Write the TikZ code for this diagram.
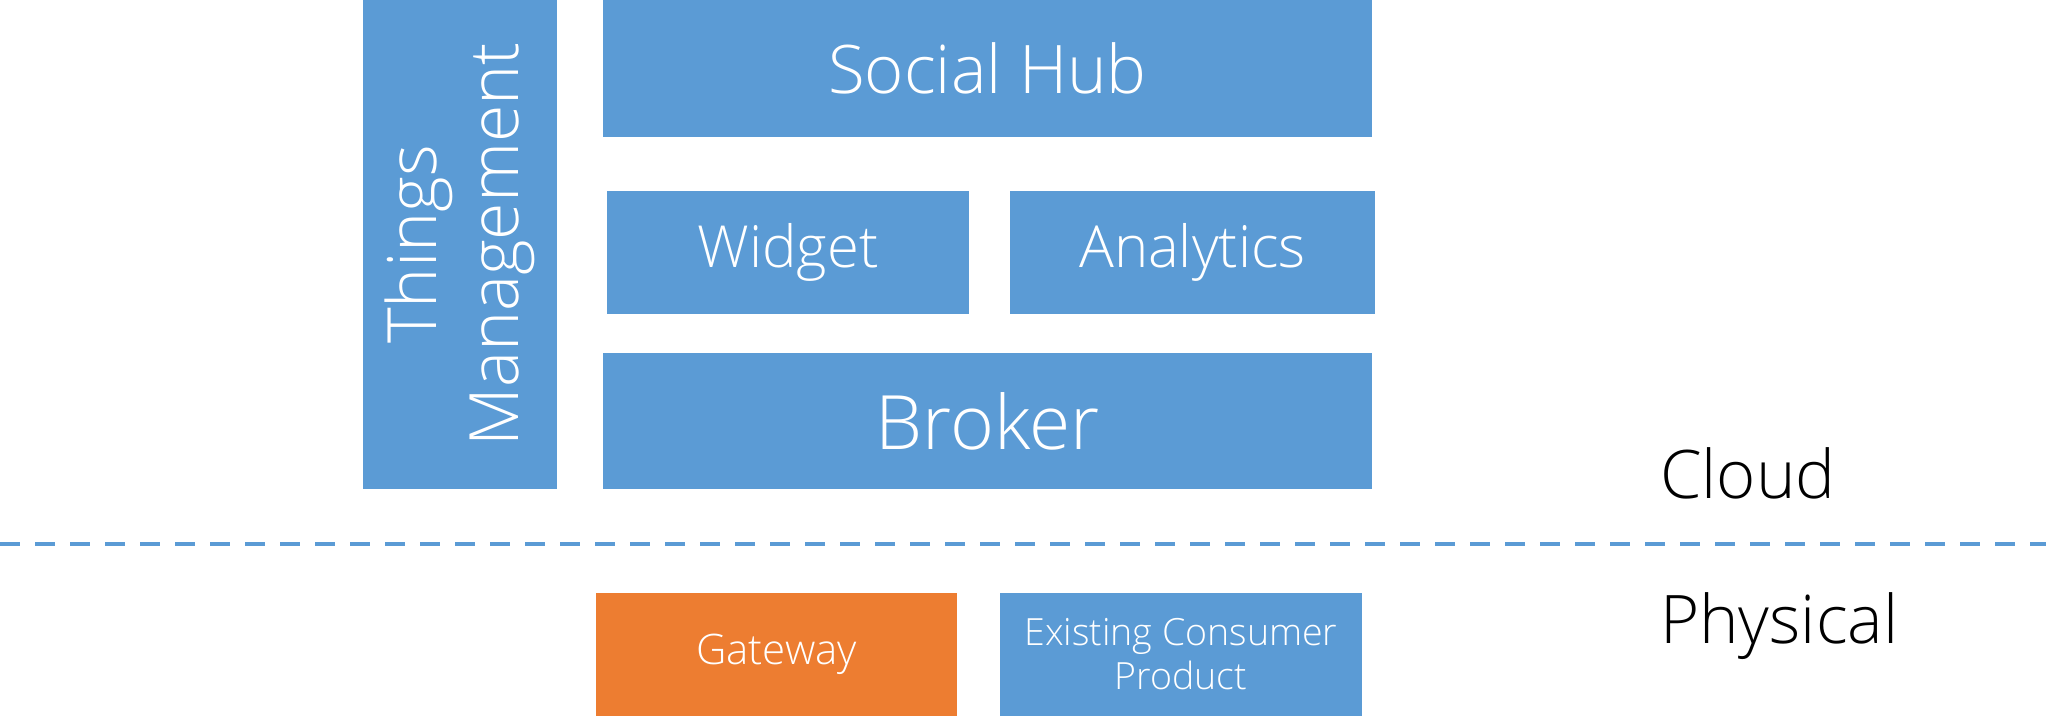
\documentclass[tikz,border=0pt]{standalone}
\usepackage{fontspec}
\setmainfont{Open Sans}[UprightFont=* Light]
\usetikzlibrary{positioning}

\definecolor{boxblue}{HTML}{5B9BD5}
\definecolor{boxorange}{HTML}{ED7D31}

\tikzset{
  layer/.style={fill=boxblue, text=white, inner sep=0pt, align=center},
  divider/.style={draw=boxblue, line width=4pt, dash pattern=on 20pt off 15pt},
  zone/.style={anchor=base west, inner sep=0pt, font=\fontsize{67}{80}\selectfont}
}

\begin{document}
\begin{tikzpicture}[x=1pt,y=-1pt]
  \useasboundingbox (0,0) rectangle (2046,722);

  % Draw the cloud layers
  \node[layer, rotate=90, minimum width=489pt, minimum height=194pt,
        font=\fontsize{68}{82}\selectfont] (things) at (460,244.5) {Things\\Management};
  \node[layer, minimum width=769pt, minimum height=137pt,
        font=\fontsize{67}{80}\selectfont] (social) at (987.5,68.5) {Social Hub};
  \node[layer, minimum width=362pt, minimum height=123pt,
        font=\fontsize{58}{70}\selectfont] (widget) at (788,252.5) {Widget};
  \node[layer, minimum width=365pt, minimum height=123pt,
        font=\fontsize{58}{70}\selectfont] (analytics) at (1192.5,252.5) {Analytics};
  \node[layer, minimum width=769pt, minimum height=136pt,
        font=\fontsize{75}{90}\selectfont] (broker) at (987.5,421) {Broker};

  % Draw the line between cloud and physical
  \coordinate (divL) at (0,544);
  \coordinate (divR) at (2046,544);
  \draw[divider] (divL) -- (divR);

  % Draw the physical things
  \node[layer, fill=boxorange, minimum width=361pt, minimum height=123pt,
        font=\fontsize{42}{48}\selectfont] (gateway) at (776.5,654.5) {Gateway};
  \node[layer, minimum width=362pt, minimum height=123pt,
        font=\fontsize{37.5}{44}\selectfont] (product) at (1181,654.5) {Existing Consumer\\Product};

  % Label the two zones
  \node[zone] (cloud) at (1660,498) {Cloud};
  \node[zone] (physical) at (1660,643) {Physical};
\end{tikzpicture}
\end{document}
